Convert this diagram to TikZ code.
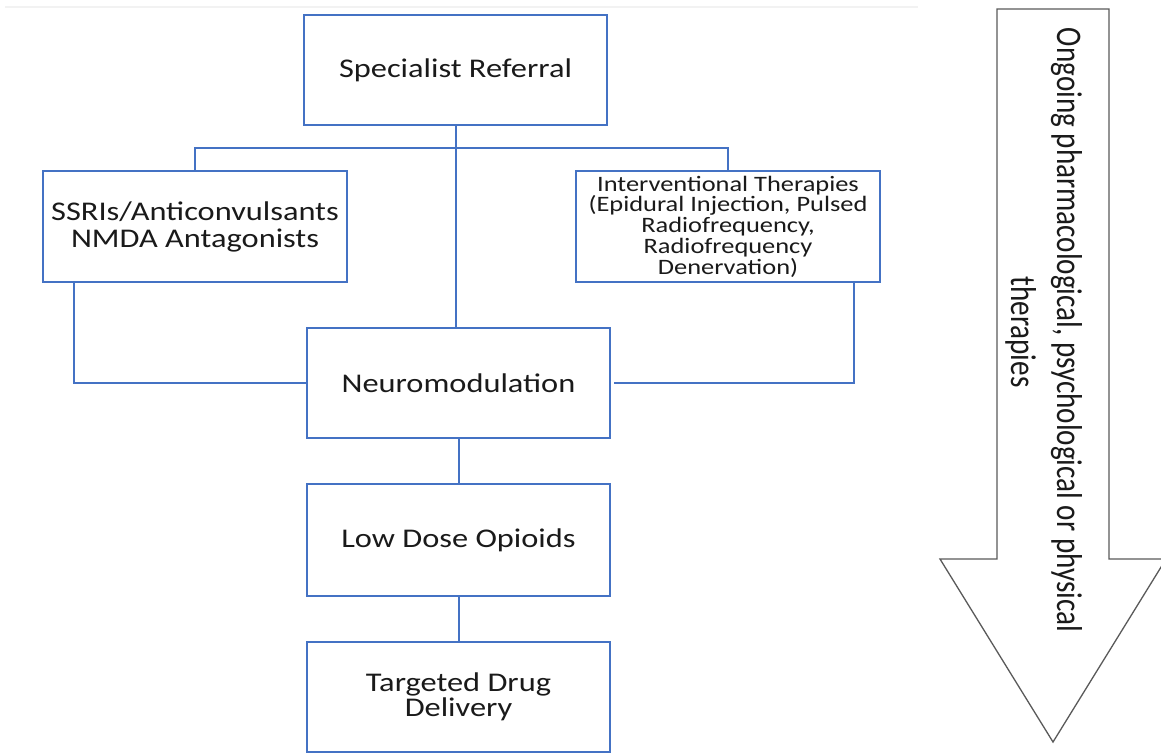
\documentclass[tikz,border=0pt]{standalone}
\usepackage{fontspec}
\setmainfont{Carlito}
\newfontfamily\boxfont[FakeStretch=1.2]{Carlito}
\newfontfamily\arrowfont[FakeStretch=0.81]{Carlito}
\definecolor{boxblue}{HTML}{4472C4}
\definecolor{arrowgray}{HTML}{5A5A5A}
\definecolor{txt}{HTML}{1A1A1A}
\tikzset{
  stepbox/.style={draw=boxblue, line width=2pt, rectangle, minimum width=303pt,
    minimum height=110pt, inner sep=0pt, align=center, text=txt,
    font=\boxfont\fontsize{27}{27}\selectfont},
  link/.style={draw=boxblue, line width=2pt},
  arrowtext/.style={rotate=-90, anchor=base, inner sep=0pt, text=txt,
    font=\arrowfont\fontsize{36}{36}\selectfont},
  bigarrow/.style={draw=arrowgray, line width=1.3pt, fill=white, line join=miter},
}
\begin{document}
\begin{tikzpicture}[x=1pt,y=-1pt]
\useasboundingbox[fill=white] (0,0) rectangle (1161,753);
\draw[gray!10, line width=1.5pt] (5,7) -- (918,7);

% boxes
\node[stepbox] (SR) at (455.5,70) {Specialist Referral};
\node[stepbox, minimum width=304pt, minimum height=111pt] (SSRI) at (195,226.5)
  {SSRIs/Anticonvulsants\\NMDA Antagonists};
\node[stepbox, minimum width=304pt, minimum height=111pt,
  font=\boxfont\fontsize{22}{20.7}\selectfont] (INT) at (728,226.5)
  {Interventional Therapies\\(Epidural Injection, Pulsed\\Radiofrequency,\\Radiofrequency\\Denervation)};
\node[stepbox] (NEU) at (458.5,383) {Neuromodulation};
\node[stepbox, minimum height=112pt] (LOW) at (458.5,540) {Low Dose Opioids};
\node[stepbox, font=\boxfont\fontsize{27}{25}\selectfont] (TGT) at (458.5,697) {Targeted Drug\\Delivery};

% connectors
\coordinate (bus) at (0,148);
\draw[link] (SR.south) -- (SR.south |- NEU.north);
\draw[link] (SSRI.north) -- (SSRI.north |- bus) -- (INT.north |- bus) -- (INT.north);
\draw[link] ([xshift=32pt]SSRI.south west) |- (NEU.west);
\draw[link] ([xshift=-27pt]INT.south east) |- ([xshift=3pt]NEU.east);
\draw[link] (NEU.south) -- (LOW.north);
\draw[link] (LOW.south) -- (TGT.north);

% big arrow
\draw[bigarrow] (997,9) -- (1109,9) -- (1109,559) -- (1166,559) -- (1053,742)
  -- (940,559) -- (997,559) -- cycle;
\node[arrowtext] (arrowtxt1) at (1057,330) {Ongoing pharmacological, psychological or physical};
\node[arrowtext] (arrowtxt2) at (1011,332) {therapies};
\end{tikzpicture}
\end{document}
